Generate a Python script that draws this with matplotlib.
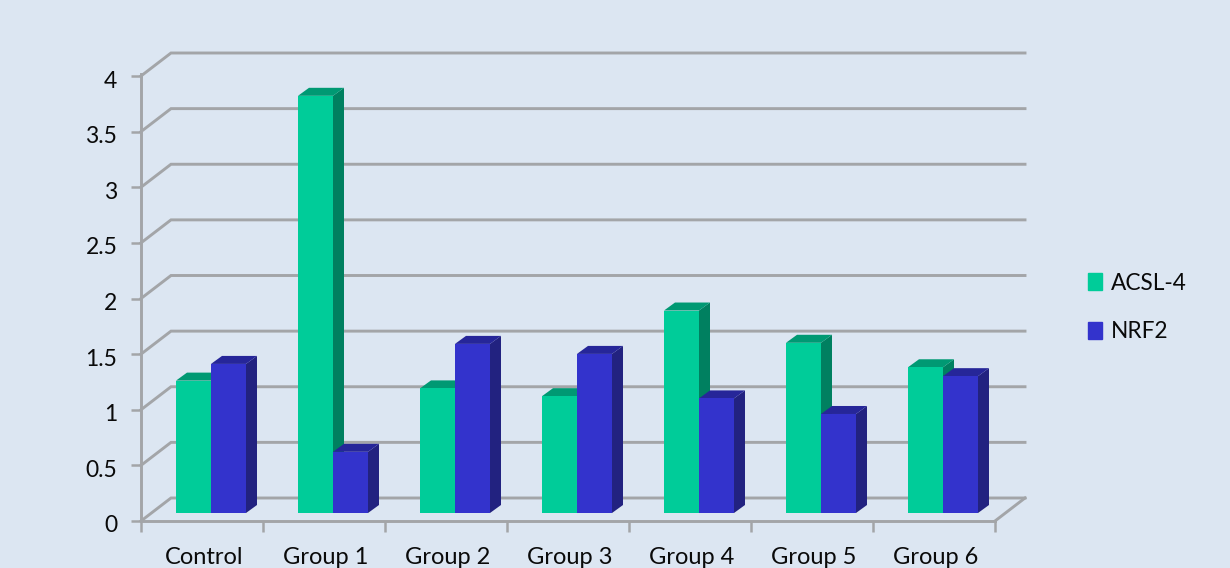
import matplotlib
matplotlib.use("Agg")
import matplotlib.pyplot as plt
from matplotlib.patches import Patch, Polygon
from matplotlib.transforms import ScaledTranslation

groups = ["Control", "Group 1", "Group 2", "Group 3", "Group 4", "Group 5", "Group 6"]
series_names = ["ACSL-4", "NRF2"]
acsl4 = [1.19, 3.75, 1.12, 1.05, 1.82, 1.53, 1.31]
nrf2 = [1.34, 0.55, 1.52, 1.43, 1.03, 0.89, 1.23]
y_ticks = [0, 0.5, 1, 1.5, 2, 2.5, 3, 3.5, 4]
y_labels = ["0", "0.5", "1", "1.5", "2", "2.5", "3", "3.5", "4"]

BG = "#DCE6F2"
GRID = "#A3A5A8"
TEXT = "#0A0A0A"
# front, side, top shades of each bar
GREEN = ("#00CC99", "#008060", "#009973")
BLUE = ("#3333CC", "#222280", "#262699")

W, H = 1230, 568
plt.rcParams["font.family"] = ["Lato", "DejaVu Sans"]
fig = plt.figure(figsize=(W / 100, H / 100), dpi=100, facecolor=BG)

# front plane of the fake 3D box, in pixels
left, right, top, bottom = 141, 995, 76, 521
ax = fig.add_axes([left / W, 1 - bottom / H, (right - left) / W, (bottom - top) / H])
ax.set_xlim(0, 7)
ax.set_ylim(0, 4)
ax.patch.set_visible(False)

px_x = 7 / (right - left)
px_y = 4 / (bottom - top)
# depth of the box and of the bars
box_dx, box_dy = 30 * px_x, 23 * px_y
bar_dx, bar_dy = 11 * px_x, 8 * px_y
lift = 8 * px_y
bar_w = 35 * px_x
bar_start = 35 * px_x

# walls: diagonal from the front axis, then the line along the back
for v in y_ticks:
    ax.plot([0, box_dx, 7 + box_dx], [v, v + box_dy, v + box_dy], color=GRID, lw=2.1,
            clip_on=False, zorder=1, solid_joinstyle="miter")
ax.plot([7, 7 + box_dx], [0, box_dy], color=GRID, lw=2.1, clip_on=False, zorder=1)
ax.plot([0, 0], [4, 4 + 2 * px_y], color=GRID, lw=2.1, clip_on=False, zorder=1)


def draw_bar(x, value, shades, z):
    ax.bar(x, value, bar_w, bottom=lift, align="edge", color=shades[0], zorder=z + 0.2)
    y0 = lift
    y1 = lift + value
    ax.add_patch(Polygon([(x + bar_w, y0), (x + bar_w + bar_dx, y0 + bar_dy),
                          (x + bar_w + bar_dx, y1 + bar_dy), (x + bar_w, y1)],
                         color=shades[1], lw=0, zorder=z))
    ax.add_patch(Polygon([(x, y1), (x + bar_dx, y1 + bar_dy),
                          (x + bar_w + bar_dx, y1 + bar_dy), (x + bar_w, y1)],
                         color=shades[2], lw=0, zorder=z + 0.1))


for i in range(len(groups)):
    draw_bar(i + bar_start, acsl4[i], GREEN, 2 + i)
    draw_bar(i + bar_start + bar_w, nrf2[i], BLUE, 2.5 + i)

for side in ["top", "right"]:
    ax.spines[side].set_visible(False)
for side in ["left", "bottom"]:
    ax.spines[side].set_color(GRID)
    ax.spines[side].set_linewidth(2.1)

ax.set_yticks(y_ticks)
ax.set_yticklabels(y_labels, fontsize=16.5, color=TEXT)
ax.set_xticks(range(8))
ax.set_xticklabels([])
ax.set_xticks([i + 0.5 for i in range(7)], minor=True)
ax.set_xticklabels(groups, minor=True, fontsize=17, color=TEXT)
ax.tick_params(axis="y", color=GRID, width=1.8, length=7, pad=10)
ax.tick_params(axis="x", which="major", color=GRID, width=1.8, length=8)
ax.tick_params(axis="x", which="minor", length=0, pad=19)

# nudge the tick labels a little off their tick positions
y_shift = ScaledTranslation(0, -3 / 100, fig.dpi_scale_trans)
for label in ax.get_yticklabels():
    label.set_transform(label.get_transform() + y_shift)
x_shift = ScaledTranslation(2 / 100, 0, fig.dpi_scale_trans)
for label in ax.get_xticklabels(minor=True):
    label.set_transform(label.get_transform() + x_shift)

handles = [Patch(color=GREEN[0], label=series_names[0]), Patch(color=BLUE[0], label=series_names[1])]
fig.legend(handles=handles, frameon=False, fontsize=16.3, loc="center left",
           bbox_to_anchor=(1088 / W, 1 - 307.5 / H), handlelength=0.62, handleheight=0.78,
           handletextpad=0.4, labelspacing=1.22, borderpad=0, borderaxespad=0,
           labelcolor=TEXT)

fig.savefig("out.png", dpi=100, facecolor=BG)
